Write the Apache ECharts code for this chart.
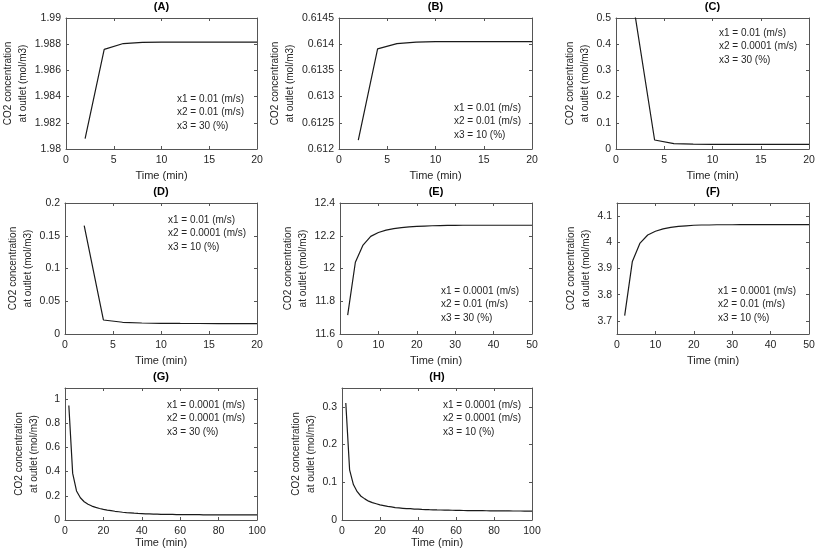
<!DOCTYPE html>
<html>
<head>
<meta charset="utf-8">
<script src="https://cdn.jsdelivr.net/npm/echarts@6/dist/echarts.min.js"></script>
<style>
html,body{margin:0;padding:0;background:#fff;}
#chart{width:817px;height:556px;}
</style>
</head>
<body>
<div id="chart"></div>
<script>
// ---------------- DATA ----------------
const timeShort = [2, 4, 6, 8, 10, 12, 14, 16, 18, 20];
const timeMid = [2, 4, 6, 8, 10, 12, 14, 16, 18, 20, 22, 24, 26, 28, 30, 32, 34, 36, 38, 40, 42, 44, 46, 48, 50];
const timeLong = [2, 4, 6, 8, 10, 12, 14, 16, 18, 20, 22, 24, 26, 28, 30, 32, 34, 36, 38, 40,
  42, 44, 46, 48, 50, 52, 54, 56, 58, 60, 62, 64, 66, 68, 70, 72, 74, 76, 78, 80,
  82, 84, 86, 88, 90, 92, 94, 96, 98, 100];

const valuesA = [1.9808, 1.9876, 1.98805, 1.98814, 1.98816, 1.98816, 1.98816, 1.98816, 1.98816, 1.98816];
const valuesB = [0.61217, 0.61391, 0.61401, 0.61404, 0.61405, 0.61405, 0.61405, 0.61405, 0.61405, 0.61405];
const valuesC = [0.505, 0.0344, 0.0204, 0.0185, 0.018, 0.0178, 0.0176, 0.0175, 0.0174, 0.0173];
const valuesD = [0.1653, 0.0214, 0.0179, 0.0168, 0.0163, 0.0161, 0.016, 0.0159, 0.0158, 0.0158];
const valuesE = [11.715, 12.038, 12.143, 12.196, 12.220, 12.234, 12.244, 12.250, 12.254, 12.257,
  12.259, 12.261, 12.262, 12.263, 12.263, 12.264, 12.264, 12.264, 12.264, 12.264,
  12.264, 12.264, 12.264, 12.264, 12.264];
const valuesF = [3.720, 3.927, 3.997, 4.028, 4.042, 4.051, 4.057, 4.061, 4.063, 4.065,
  4.066, 4.066, 4.067, 4.067, 4.067, 4.0675, 4.0675, 4.0675, 4.0675, 4.0675,
  4.0675, 4.0675, 4.0675, 4.0675, 4.0675];
const valuesG = [0.945, 0.385, 0.240, 0.184, 0.151, 0.130, 0.115, 0.104, 0.095, 0.088,
  0.082, 0.077, 0.072, 0.068, 0.064, 0.061, 0.059, 0.056, 0.054, 0.053,
  0.051, 0.050, 0.049, 0.048, 0.047, 0.047, 0.046, 0.046, 0.045, 0.045,
  0.045, 0.044, 0.044, 0.044, 0.044, 0.043, 0.043, 0.043, 0.043, 0.043,
  0.043, 0.042, 0.042, 0.042, 0.042, 0.042, 0.042, 0.042, 0.042, 0.042];
const valuesH = [0.310, 0.133, 0.094, 0.075, 0.063, 0.056, 0.050, 0.046, 0.043, 0.040,
  0.038, 0.036, 0.035, 0.033, 0.032, 0.031, 0.030, 0.030, 0.029, 0.0287,
  0.028, 0.0277, 0.0273, 0.027, 0.0267, 0.0265, 0.0262, 0.026, 0.0258, 0.0256,
  0.0254, 0.0252, 0.0251, 0.025, 0.0248, 0.0247, 0.0246, 0.0245, 0.0244, 0.0243,
  0.0242, 0.0241, 0.024, 0.024, 0.0239, 0.0238, 0.0238, 0.0237, 0.0236, 0.0236];

const xTicksShort = [0, 5, 10, 15, 20];
const xTicksMid = [0, 10, 20, 30, 40, 50];
const xTicksLong = [0, 20, 40, 60, 80, 100];

const yTicksA = [1.98, 1.982, 1.984, 1.986, 1.988, 1.99];
const yTicksB = [0.612, 0.6125, 0.613, 0.6135, 0.614, 0.6145];
const yTicksC = [0, 0.1, 0.2, 0.3, 0.4, 0.5];
const yTicksD = [0, 0.05, 0.1, 0.15, 0.2];
const yTicksE = [11.6, 11.8, 12, 12.2, 12.4];
const yTicksF = [3.7, 3.8, 3.9, 4, 4.1];
const yTicksG = [0, 0.2, 0.4, 0.6, 0.8, 1];
const yTicksH = [0, 0.1, 0.2, 0.3];

const yRangeA = [1.98, 1.99];
const yRangeB = [0.612, 0.6145];
const yRangeC = [0, 0.5];
const yRangeD = [0, 0.2];
const yRangeE = [11.6, 12.4];
const yRangeF = [3.65, 4.15];
const yRangeG = [0, 1.09];
const yRangeH = [0, 0.35];

const panelTitles = ['(A)', '(B)', '(C)', '(D)', '(E)', '(F)', '(G)', '(H)'];
const annotations = [
  ['x1 = 0.01 (m/s)', 'x2 = 0.01 (m/s)', 'x3 = 30 (%)'],
  ['x1 = 0.01 (m/s)', 'x2 = 0.01 (m/s)', 'x3 = 10 (%)'],
  ['x1 = 0.01 (m/s)', 'x2 = 0.0001 (m/s)', 'x3 = 30 (%)'],
  ['x1 = 0.01 (m/s)', 'x2 = 0.0001 (m/s)', 'x3 = 10 (%)'],
  ['x1 = 0.0001 (m/s)', 'x2 = 0.01 (m/s)', 'x3 = 30 (%)'],
  ['x1 = 0.0001 (m/s)', 'x2 = 0.01 (m/s)', 'x3 = 10 (%)'],
  ['x1 = 0.0001 (m/s)', 'x2 = 0.0001 (m/s)', 'x3 = 30 (%)'],
  ['x1 = 0.0001 (m/s)', 'x2 = 0.0001 (m/s)', 'x3 = 10 (%)']
];
const xAxisName = 'Time (min)';
const yAxisName = 'CO2 concentration\nat outlet (mol/m3)';

// ---------------- LAYOUT / STYLE ----------------
const panels = [
  {t: timeShort, v: valuesA, xt: xTicksShort, yt: yTicksA, yr: yRangeA, g: {left: 66, top: 18, width: 191, height: 131}, yGap: 30, xGap: 21, ann: [177, 92]},
  {t: timeShort, v: valuesB, xt: xTicksShort, yt: yTicksB, yr: yRangeB, g: {left: 339, top: 18, width: 193, height: 131}, yGap: 38, xGap: 21, ann: [454, 101]},
  {t: timeShort, v: valuesC, xt: xTicksShort, yt: yTicksC, yr: yRangeC, g: {left: 616, top: 18, width: 193, height: 131}, yGap: 21, xGap: 21, ann: [719, 26]},
  {t: timeShort, v: valuesD, xt: xTicksShort, yt: yTicksD, yr: yRangeD, g: {left: 65, top: 203, width: 192, height: 131}, yGap: 26, xGap: 21, ann: [168, 213]},
  {t: timeMid, v: valuesE, xt: xTicksMid, yt: yTicksE, yr: yRangeE, g: {left: 340, top: 203, width: 192, height: 131}, yGap: 26, xGap: 21, ann: [441, 284]},
  {t: timeMid, v: valuesF, xt: xTicksMid, yt: yTicksF, yr: yRangeF, g: {left: 617, top: 203, width: 192, height: 131}, yGap: 21, xGap: 21, ann: [718, 284]},
  {t: timeLong, v: valuesG, xt: xTicksLong, yt: yTicksG, yr: yRangeG, g: {left: 65, top: 388, width: 192, height: 132}, yGap: 21, xGap: 17, ann: [167, 398]},
  {t: timeLong, v: valuesH, xt: xTicksLong, yt: yTicksH, yr: yRangeH, g: {left: 342, top: 388, width: 190, height: 132}, yGap: 21, xGap: 17, ann: [443, 398]}
];

const FONT = 'Liberation Sans, Arial, Helvetica, sans-serif';
const AXIS_COLOR = '#555555';
const TEXT_COLOR = '#262626';
const fmt = v => String(parseFloat(Number(v).toFixed(6)));

const grid = [], xAxis = [], yAxis = [], series = [], graphic = [];

panels.forEach((p, i) => {
  grid.push(Object.assign({show: false, containLabel: false, outerBoundsMode: 'none'}, p.g));
  const xMax = p.xt[p.xt.length - 1];
  const common = {
    type: 'value', gridIndex: i, splitLine: {show: false},
    axisLine: {show: true, onZero: false, lineStyle: {color: AXIS_COLOR, width: 1}},
  };
  xAxis.push(Object.assign({}, common, {
    position: 'bottom', min: 0, max: xMax,
    axisTick: {show: true, inside: true, length: 3, customValues: p.xt, lineStyle: {color: AXIS_COLOR}},
    axisLabel: {show: true, customValues: p.xt, formatter: fmt, margin: 6, color: TEXT_COLOR, fontFamily: FONT, fontSize: 10.5},
    name: xAxisName, nameLocation: 'middle', nameGap: p.xGap,
    nameTextStyle: {color: TEXT_COLOR, fontFamily: FONT, fontSize: 11}
  }));
  xAxis.push(Object.assign({}, common, {
    position: 'top', min: 0, max: xMax,
    axisTick: {show: true, inside: true, length: 3, customValues: p.xt, lineStyle: {color: AXIS_COLOR}},
    axisLabel: {show: false}
  }));
  yAxis.push(Object.assign({}, common, {
    position: 'left', min: p.yr[0], max: p.yr[1],
    axisTick: {show: true, inside: true, length: 3, customValues: p.yt, lineStyle: {color: AXIS_COLOR}},
    axisLabel: {show: true, customValues: p.yt, formatter: fmt, margin: 5, color: TEXT_COLOR, fontFamily: FONT, fontSize: 10.5},
    name: yAxisName, nameLocation: 'middle', nameGap: p.yGap, nameRotate: 90,
    nameTextStyle: {color: TEXT_COLOR, fontFamily: FONT, fontSize: 10, lineHeight: 15}
  }));
  yAxis.push(Object.assign({}, common, {
    position: 'right', min: p.yr[0], max: p.yr[1],
    axisTick: {show: true, inside: true, length: 3, customValues: p.yt, lineStyle: {color: AXIS_COLOR}},
    axisLabel: {show: false}
  }));
  series.push({
    type: 'line', xAxisIndex: 2 * i, yAxisIndex: 2 * i,
    data: p.t.map((t, k) => [t, p.v[k]]),
    showSymbol: false, symbol: 'none', clip: true, animation: false,
    lineStyle: {color: '#1a1a1a', width: 1.2}
  });
  graphic.push({
    type: 'text', x: p.g.left + p.g.width / 2, y: p.g.top - 11,
    style: {text: panelTitles[i], textAlign: 'center', textVerticalAlign: 'middle',
      font: 'bold 11px ' + FONT, fill: '#000'}
  });
  graphic.push({
    type: 'text', x: p.ann[0], y: p.ann[1],
    style: {text: annotations[i].join('\n'), textAlign: 'left', textVerticalAlign: 'top',
      font: '10px ' + FONT, lineHeight: 13.5, fill: TEXT_COLOR}
  });
});

const chart = echarts.init(document.getElementById('chart'), null, {renderer: 'canvas'});
chart.setOption({
  animation: false,
  backgroundColor: '#ffffff',
  grid, xAxis, yAxis, series, graphic
});
</script>
</body>
</html>
